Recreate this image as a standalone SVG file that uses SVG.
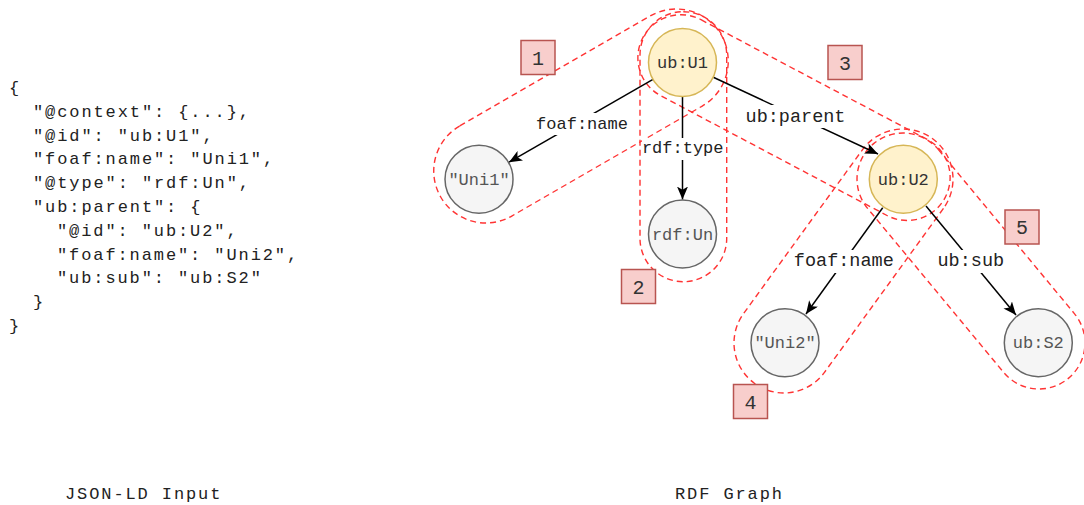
<svg xmlns="http://www.w3.org/2000/svg" width="1084" height="505" viewBox="0 0 1084 505">
  <defs>
    <marker id="arrow" viewBox="0 0 13 11" refX="13" refY="5.5" markerWidth="13" markerHeight="11" markerUnits="userSpaceOnUse" orient="auto">
      <path d="M0,0 L13,5.5 L0,11 L3.3,5.5 Z" fill="#000"/>
    </marker>
    <style>
      .mono { font-family: "Liberation Mono", "Courier New", monospace; }
      .code { font-size: 17px; letter-spacing: 1.9px; fill: #222; }
      .grp { fill: none; stroke: #ff3333; stroke-width: 1.4; stroke-dasharray: 6 4; }
      .res circle { fill: #fff2cc; stroke: #d6b656; stroke-width: 1.5; }
      .res text { fill: #333; }
      .lit circle { fill: #f5f5f5; stroke: #666666; stroke-width: 1.5; }
      .lit text { fill: #555; }
      .node text { font-size: 17px; text-anchor: middle; }
      .edge { fill: none; stroke: #000; stroke-width: 1.5; marker-end: url(#arrow); }
      .lbl-bg { fill: #fff; }
      .lbl { text-anchor: middle; fill: #222; }
      .tag rect { fill: #f8cecc; stroke: #b85450; stroke-width: 1.5; }
      .tag text { font-size: 20px; text-anchor: middle; fill: #333; }
    </style>
  </defs>

  <!-- JSON-LD source document -->
  <g id="json-input" class="mono code">
    <text x="9" y="93">{</text>
    <text x="33" y="116.8">"@context": {...},</text>
    <text x="33" y="140.6">"@id": "ub:U1",</text>
    <text x="33" y="164.4">"foaf:name": "Uni1",</text>
    <text x="33" y="188.2">"@type": "rdf:Un",</text>
    <text x="33" y="212">"ub:parent": {</text>
    <text x="57" y="235.8">"@id": "ub:U2",</text>
    <text x="57" y="259.6">"foaf:name": "Uni2",</text>
    <text x="57" y="283.4">"ub:sub": "ub:S2"</text>
    <text x="33" y="307.2">}</text>
    <text x="9" y="331">}</text>
  </g>

  <!-- captions -->
  <g id="captions" class="mono code">
    <text x="65" y="498.5">JSON-LD Input</text>
    <text x="675" y="498.5">RDF Graph</text>
  </g>

  <!-- dashed triple groupings -->
  <g id="triple-groups">
    <rect id="group-1" class="grp" x="-162" y="-52" width="324" height="104" rx="52" transform="translate(581 116) rotate(-30)"/>
    <rect id="group-2" class="grp" x="640" y="11.7" width="86.7" height="270" rx="43.3"/>
    <rect id="group-3" class="grp" x="-171" y="-43" width="342" height="86" rx="43" transform="translate(794 117.6) rotate(27.9)"/>
    <rect id="group-4" class="grp" x="-151.3" y="-50" width="302.6" height="100" rx="50" transform="translate(843.5 261) rotate(125.97)"/>
    <rect id="group-5" class="grp" x="-152.5" y="-46" width="305" height="92" rx="46" transform="translate(971 261) rotate(50.33)"/>
  </g>

  <!-- connectors -->
  <g id="connectors">
    <path class="edge" d="M653,79.4 L509,162.2"/>
    <path class="edge" d="M682.5,96.5 L682.5,199.5"/>
    <path class="edge" d="M713.3,77.3 L878,154"/>
    <path class="edge" d="M882.7,207.7 L806,314"/>
    <path class="edge" d="M926,206 L1016,315"/>

    <rect class="lbl-bg" x="536" y="113" width="92" height="22"/>
    <text class="mono lbl" x="582" y="128.5" font-size="17">foaf:name</text>

    <rect class="lbl-bg" x="642" y="138" width="82" height="22"/>
    <text class="mono lbl" x="682.7" y="153.3" font-size="17">rdf:type</text>

    <rect class="lbl-bg" x="745.5" y="105" width="100" height="23"/>
    <text class="mono lbl" x="795.5" y="122" font-size="18.5">ub:parent</text>

    <rect class="lbl-bg" x="793.8" y="250" width="100" height="23"/>
    <text class="mono lbl" x="843.8" y="265.5" font-size="18.5">foaf:name</text>

    <rect class="lbl-bg" x="937.5" y="250" width="67" height="23"/>
    <text class="mono lbl" x="970.8" y="265.5" font-size="18.5">ub:sub</text>
  </g>

  <!-- graph nodes -->
  <g id="node-ub-U1" class="node res mono">
    <circle cx="682.5" cy="62.5" r="34"/>
    <text x="682.5" y="68">ub:U1</text>
  </g>
  <g id="node-uni1" class="node lit mono">
    <circle cx="479" cy="179.3" r="34"/>
    <text x="479" y="185">"Uni1"</text>
  </g>
  <g id="node-rdf-Un" class="node lit mono">
    <circle cx="682.5" cy="234" r="34"/>
    <text x="682.5" y="239.5">rdf:Un</text>
  </g>
  <g id="node-ub-U2" class="node res mono">
    <circle cx="903.3" cy="179.3" r="34"/>
    <text x="903.3" y="185">ub:U2</text>
  </g>
  <g id="node-uni2" class="node lit mono">
    <circle cx="785" cy="342.7" r="34"/>
    <text x="785" y="348.3">"Uni2"</text>
  </g>
  <g id="node-ub-S2" class="node lit mono">
    <circle cx="1038.3" cy="342.7" r="34"/>
    <text x="1038.3" y="348.3">ub:S2</text>
  </g>

  <!-- group number tags -->
  <g id="tag-1" class="tag mono">
    <rect x="521" y="40.5" width="34" height="34"/>
    <text x="538" y="64.5">1</text>
  </g>
  <g id="tag-2" class="tag mono">
    <rect x="621.5" y="269.5" width="34" height="34"/>
    <text x="638.5" y="293.5">2</text>
  </g>
  <g id="tag-3" class="tag mono">
    <rect x="828" y="45.5" width="34" height="34"/>
    <text x="845" y="69.5">3</text>
  </g>
  <g id="tag-4" class="tag mono">
    <rect x="733.5" y="384.5" width="34" height="34"/>
    <text x="750.5" y="408.5">4</text>
  </g>
  <g id="tag-5" class="tag mono">
    <rect x="1005" y="210" width="34" height="34"/>
    <text x="1022" y="234">5</text>
  </g>
</svg>
